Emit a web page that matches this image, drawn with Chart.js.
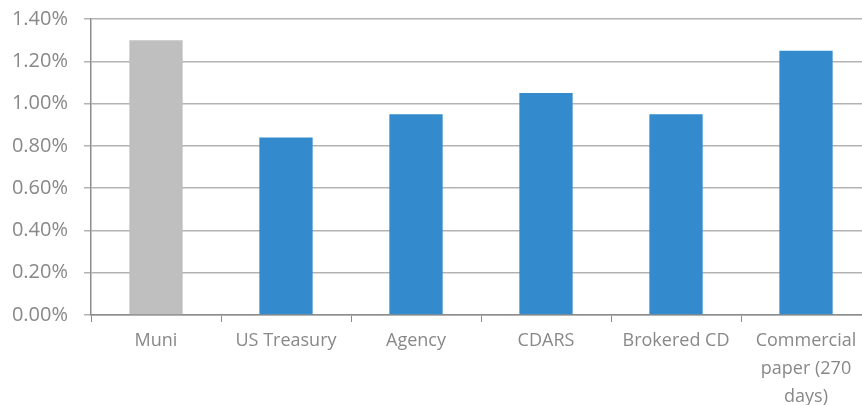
<!DOCTYPE html>
<html>
<head>
<meta charset="utf-8">
<script src="https://cdn.jsdelivr.net/npm/chart.js@4/dist/chart.umd.min.js"></script>
<style>
	html, body { margin: 0; padding: 0; overflow: hidden; background: #fff; }
</style>
</head>
<body>
<canvas id="myChart" width="872" height="405"></canvas>
<script>
// Yields by instrument type, in percent
const categories = ["Muni", "US Treasury", "Agency", "CDARS", "Brokered CD", ["Commercial", "paper (270", "days)"]];
const yields = [1.30, 0.84, 0.95, 1.05, 0.95, 1.25];
const barColors = ["#bfbfbf", "#338bcd", "#338bcd", "#338bcd", "#338bcd", "#338bcd"];
const yTicks = [0, 0.2, 0.4, 0.6, 0.8, 1.0, 1.2, 1.4];

const gridColor = "#b3b3b3";
const axisColor = "#8c8c8c";
const textColor = "#888888";

const ctx = document.getElementById("myChart").getContext("2d");
const myChart = new Chart(ctx, {
	type: "bar",
	data: {
		labels: categories,
		datasets: [
			{
				data: yields,
				backgroundColor: barColors,
				categoryPercentage: 1,
				barPercentage: 0.41,
			},
		],
	},
	options: {
		responsive: false,
		animation: false,
		layout: { padding: { top: 19, right: 1, left: 0, bottom: 0 } },
		plugins: {
			legend: { display: false },
			tooltip: { enabled: false },
		},
		scales: {
			x: {
				offset: true,
				grid: {
					offset: true,
					drawOnChartArea: false,
					color: axisColor,
					tickLength: 7,
				},
				border: { color: axisColor, width: 1.5 },
				ticks: {
					color: textColor,
					font: { family: "'Open Sans', sans-serif", size: 18, lineHeight: 1.55 },
					padding: 5,
					maxRotation: 0,
					autoSkip: false,
				},
				afterFit: (axis) => {
					axis.height = 90;
					axis.paddingLeft = 0;
					axis.paddingRight = 0;
				},
			},
			y: {
				min: 0,
				max: 1.4,
				afterBuildTicks: (axis) => {
					axis.ticks = yTicks.map((v) => ({ value: v }));
				},
				grid: {
					color: gridColor,
					lineWidth: 1.5,
					tickLength: 7,
				},
				border: { color: axisColor, width: 1.5 },
				ticks: {
					color: textColor,
					font: { family: "'Open Sans', sans-serif", size: 20 },
					padding: 16,
					callback: (value) => value.toFixed(2) + "%",
				},
				afterFit: (axis) => {
					axis.width = 91;
					axis.paddingTop = 0;
					axis.paddingBottom = 0;
				},
			},
		},
	},
});
</script>
</body>
</html>
